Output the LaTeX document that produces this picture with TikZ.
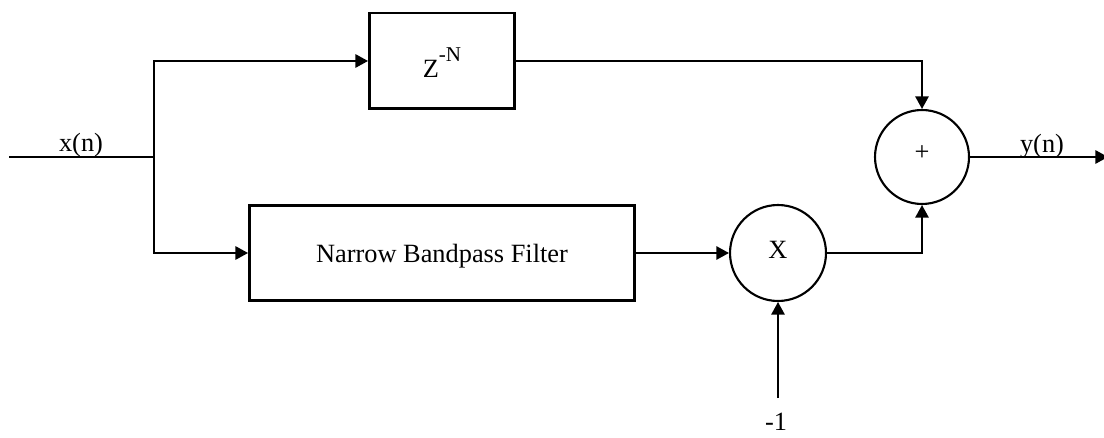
\documentclass[tikz,border=0pt]{standalone}
\usepackage{fontspec}
\setmainfont{Liberation Serif}
\usetikzlibrary{arrows.meta,calc,positioning}
\tikzset{
    auto,semithick,
    block/.style ={rectangle, draw, line width=1.7pt, inner sep=0pt, text depth=0pt},
    mixer/.style ={circle, draw, line width=1.2pt, inner sep=0pt, text depth=4pt, minimum size=1.9cm},
    sig/.style = {inner sep=0pt, anchor=base}
}

\begin{document}
\begin{tikzpicture}[
  x=0.02cm, y=-0.02cm,
  every node/.style={text=black, font=\fontsize{15}{18}\selectfont},
  edge/.style={-{Triangle[length=7.2pt,width=7.6pt]}, line width=1.1pt, draw=black},
  wire/.style={line width=1.1pt, draw=black}
]
\useasboundingbox (0,0) rectangle (1104,438);

% ---- blocks ----
\node[block, minimum width=2.9cm, minimum height=1.92cm, text height=19pt] (delay) at (442,61)
  {Z\raisebox{9pt}{\fontsize{12}{14}\selectfont -N}};
\node[block, minimum width=7.7cm, minimum height=1.9cm] (bpf) at (442,253) {Narrow Bandpass Filter};

% ---- sum and product ----
\node[mixer, minimum size=1.88cm] (sum) at (922,157) {+};
\node[mixer, minimum size=1.92cm] (mult) at (778,253) {X};

% ---- ends of the signal path ----
\coordinate (in) at (9,157);
\coordinate (split) at (154,157);
\coordinate (out) at (1108,157);
\coordinate (neg) at (778,398);

% ---- signal labels ----
\node[sig] (xlab) at (81,152) {x(n)};
\node[sig] (ylab) at (1042,153) {y(n)};
\node[sig] (neglab) at (776,430) {-1};

% ---- edges: input split ----
\draw[wire] (in) -- (split);
\draw[edge] (split) |- (delay.west);
\draw[edge] (split) |- (bpf.west);

% ---- edges: delay and filter paths ----
\draw[edge] (delay.east) -| (sum.north);
\draw[edge] (bpf) -- (mult);
\draw[edge] (neg) -- (mult);
\draw[edge] (mult) -| (sum.south);

% ---- edges: output ----
\draw[edge] (sum) -- (out);

\end{tikzpicture}
\end{document}
